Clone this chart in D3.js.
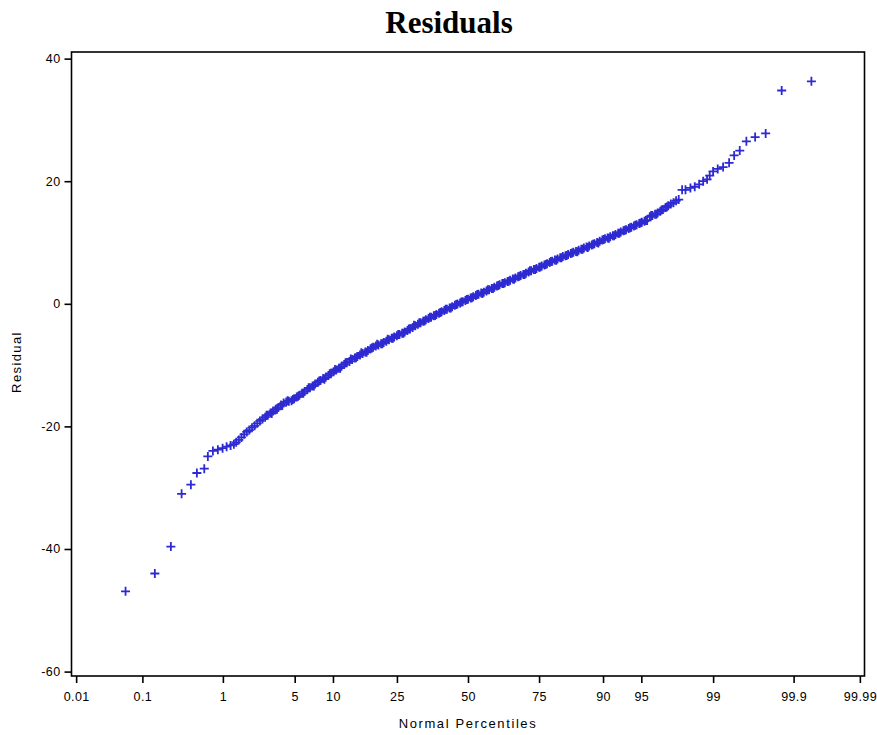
<!DOCTYPE html>
<html>
<head>
<meta charset="utf-8">
<script src="https://cdn.jsdelivr.net/npm/d3@7"></script>
<style>
  html, body { margin: 0; padding: 0; background: #fff; }
  svg { display: block; }
</style>
</head>
<body>
<svg id="chart" width="877" height="735"></svg>
<script>
// ---------- DATA ----------
const chartTitle = "Residuals";
const xAxisTitle = "Normal Percentiles";
const yAxisTitle = "Residual";

// x tick labels (percentiles) and y ticks
const percentileTicks = ["0.01", "0.1", "1", "5", "10", "25", "50", "75", "90", "95", "99", "99.9", "99.99"];
const residualTicks = [40, 20, 0, -20, -40, -60];

// lower tail: normal quantile (z) and residual
const lowTailZ = [-3.250, -2.972, -2.820, -2.718, -2.630, -2.573, -2.503, -2.469, -2.421, -2.374, -2.329, -2.291, -2.253, -2.222];
const lowTailResidual = [-46.9, -44.0, -39.6, -31.0, -29.5, -27.6, -26.9, -24.9, -24.0, -23.8, -23.55, -23.3, -23.1, -22.9];

// dense middle band
const midZ = [
  -2.200, -2.175, -2.150, -2.125, -2.100, -2.075, -2.050, -2.025, -2.000, -1.975,
  -1.950, -1.925, -1.900, -1.875, -1.850, -1.825, -1.800, -1.775, -1.750, -1.725,
  -1.700, -1.675, -1.650, -1.625, -1.600, -1.575, -1.550, -1.525, -1.500, -1.475,
  -1.450, -1.425, -1.400, -1.375, -1.350, -1.325, -1.300, -1.275, -1.250, -1.225,
  -1.200, -1.175, -1.150, -1.125, -1.100, -1.075, -1.050, -1.025, -1.000, -0.975,
  -0.950, -0.925, -0.900, -0.875, -0.850, -0.825, -0.800, -0.775, -0.750, -0.725,
  -0.700, -0.675, -0.650, -0.625, -0.600, -0.575, -0.550, -0.525, -0.500, -0.475,
  -0.450, -0.425, -0.400, -0.375, -0.350, -0.325, -0.300, -0.275, -0.250, -0.225,
  -0.200, -0.175, -0.150, -0.125, -0.100, -0.075, -0.050, -0.025, 0.000, 0.025,
  0.050, 0.075, 0.100, 0.125, 0.150, 0.175, 0.200, 0.225, 0.250, 0.275,
  0.300, 0.325, 0.350, 0.375, 0.400, 0.425, 0.450, 0.475, 0.500, 0.525,
  0.550, 0.575, 0.600, 0.625, 0.650, 0.675, 0.700, 0.725, 0.750, 0.775,
  0.800, 0.825, 0.850, 0.875, 0.900, 0.925, 0.950, 0.975, 1.000, 1.025,
  1.050, 1.075, 1.100, 1.125, 1.150, 1.175, 1.200, 1.225, 1.250, 1.275,
  1.300, 1.325, 1.350, 1.375, 1.400, 1.425, 1.450, 1.475, 1.500, 1.525,
  1.550, 1.575, 1.600, 1.625, 1.650, 1.675, 1.700, 1.725, 1.750, 1.775,
  1.800, 1.825, 1.850, 1.875, 1.900, 1.925, 1.950, 1.975, 2.000
];
const midResidual = [
  -22.6, -22.2, -21.8, -21.3, -20.9, -20.6, -20.2, -19.9, -19.5, -19.1,
  -18.8, -18.5, -18.2, -17.8, -17.5, -17.2, -16.9, -16.5, -16.2, -16.0,
  -15.9, -15.8, -15.5, -15.2, -14.9, -14.6, -14.3, -14.0, -13.7, -13.4,
  -13.1, -12.8, -12.5, -12.2, -12.0, -11.7, -11.4, -11.1, -10.8, -10.5,
  -10.2, -9.9, -9.6, -9.4, -9.1, -8.85, -8.6, -8.35, -8.1, -7.85,
  -7.6, -7.35, -7.1, -6.9, -6.7, -6.5, -6.3, -6.1, -5.85, -5.6,
  -5.4, -5.2, -5.0, -4.8, -4.6, -4.35, -4.1, -3.85, -3.6, -3.35,
  -3.1, -2.85, -2.6, -2.4, -2.2, -1.95, -1.75, -1.55, -1.3, -1.1,
  -0.9, -0.7, -0.5, -0.25, -0.05, 0.15, 0.35, 0.55, 0.75, 0.95,
  1.15, 1.35, 1.55, 1.75, 1.9, 2.1, 2.3, 2.5, 2.7, 2.9,
  3.1, 3.3, 3.45, 3.65, 3.85, 4.05, 4.2, 4.4, 4.6, 4.8,
  5.0, 5.2, 5.4, 5.6, 5.75, 5.95, 6.15, 6.35, 6.55, 6.75,
  6.95, 7.15, 7.3, 7.5, 7.7, 7.85, 8.05, 8.2, 8.4, 8.55,
  8.75, 8.9, 9.1, 9.25, 9.45, 9.6, 9.8, 10.0, 10.2, 10.4,
  10.6, 10.75, 10.95, 11.1, 11.3, 11.5, 11.7, 11.9, 12.1, 12.3,
  12.5, 12.7, 12.9, 13.1, 13.3, 13.45, 13.6, 14.2, 14.4, 14.6,
  14.8, 15.1, 15.4, 15.7, 16.0, 16.3, 16.5, 16.8, 17.0
];

// extra in-between readings where the band is densest
const midZ2 = [
  -1.9125, -1.8625, -1.8125, -1.7625, -1.7125, -1.6625, -1.6125, -1.5625, -1.5125, -1.4625,
  -1.4125, -1.3625, -1.3125, -1.2625, -1.2125, -1.1625, -1.1125, -1.0625, -1.0125, -0.9625,
  -0.9125, -0.8625, -0.8125, -0.7625, -0.7125, -0.6625, -0.6125, -0.5625, -0.5125, -0.4625,
  -0.4125, -0.3625, -0.3125, -0.2625, -0.2125, -0.1625, -0.1125, -0.0625, -0.0125, 0.0375,
  0.0875, 0.1375, 0.1875, 0.2375, 0.2875, 0.3375, 0.3875, 0.4375, 0.4875, 0.5375,
  0.5875, 0.6375, 0.6875, 0.7375, 0.7875, 0.8375, 0.8875, 0.9375, 0.9875, 1.0375,
  1.0875, 1.1375, 1.1875, 1.2375, 1.2875, 1.3375, 1.3875, 1.4375, 1.4875, 1.5375,
  1.5875, 1.6375, 1.6875, 1.7375, 1.7875, 1.8375, 1.8875
];
const midResidual2 = [
  -18.2, -17.9, -17.2, -16.6, -15.8, -15.6, -15.1, -14.6, -13.7, -13.4,
  -12.6, -12.3, -11.4, -10.7, -10.5, -9.6, -9.0, -8.8, -8.0, -7.9,
  -7.2, -6.6, -6.5, -5.8, -5.6, -5.0, -4.8, -4.1, -3.5, -3.1,
  -2.8, -2.2, -1.9, -1.4, -0.9, -0.7, -0.1, 0.3, 0.7, 1.0,
  1.5, 1.7, 2.3, 2.5, 3.0, 3.3, 3.7, 4.0, 4.5, 4.8,
  5.4, 5.6, 6.0, 6.4, 6.9, 7.1, 7.5, 7.9, 8.3, 8.5,
  8.9, 9.2, 9.7, 9.9, 10.5, 10.7, 11.1, 11.5, 12.0, 12.4,
  12.8, 13.2, 13.6, 14.4, 14.6, 15.3, 15.8
];

// upper tail
const highTailZ = [2.032, 2.064, 2.111, 2.152, 2.194, 2.232, 2.269, 2.294, 2.326, 2.370, 2.421, 2.478, 2.526, 2.579, 2.642, 2.725, 2.825, 2.977, 3.259];
const highTailResidual = [18.6, 18.6, 18.9, 19.1, 19.5, 20.0, 20.3, 20.9, 21.6, 22.0, 22.3, 23.0, 24.2, 25.0, 26.5, 27.2, 27.8, 34.8, 36.3];

// ---------- helpers ----------
// inverse standard normal CDF (Acklam)
function probit(p) {
  const a = [-3.969683028665376e+01, 2.209460984245205e+02, -2.759285104469687e+02, 1.383577518672690e+02, -3.066479806614716e+01, 2.506628277459239e+00];
  const b = [-5.447609879822406e+01, 1.615858368580409e+02, -1.556989798598866e+02, 6.680131188771972e+01, -1.328068155288572e+01];
  const c = [-7.784894002430293e-03, -3.223964580411365e-01, -2.400758277161838e+00, -2.549732539343734e+00, 4.374664141464968e+00, 2.938163982698783e+00];
  const d = [7.784695709041462e-03, 3.224671290700398e-01, 2.445134137142996e+00, 3.754408661907416e+00];
  const pl = 0.02425, ph = 1 - pl;
  let q, r;
  if (p < pl) {
    q = Math.sqrt(-2 * Math.log(p));
    return (((((c[0]*q+c[1])*q+c[2])*q+c[3])*q+c[4])*q+c[5]) / ((((d[0]*q+d[1])*q+d[2])*q+d[3])*q+1);
  } else if (p <= ph) {
    q = p - 0.5; r = q * q;
    return (((((a[0]*r+a[1])*r+a[2])*r+a[3])*r+a[4])*r+a[5])*q / (((((b[0]*r+b[1])*r+b[2])*r+b[3])*r+b[4])*r+1);
  } else {
    q = Math.sqrt(-2 * Math.log(1 - p));
    return -(((((c[0]*q+c[1])*q+c[2])*q+c[3])*q+c[4])*q+c[5]) / ((((d[0]*q+d[1])*q+d[2])*q+d[3])*q+1);
  }
}

const points = []
  .concat(lowTailZ.map((z, i) => ({ z, r: lowTailResidual[i] })))
  .concat(midZ.map((z, i) => ({ z, r: midResidual[i] })))
  .concat(midZ2.map((z, i) => ({ z, r: midResidual2[i] })))
  .concat(highTailZ.map((z, i) => ({ z, r: highTailResidual[i] })));

// ---------- layout ----------
const svg = d3.select("#chart");
const plotLeft = 71.5, plotRight = 864.5, plotTop = 52, plotBottom = 676;

const x = d3.scaleLinear().domain([-3.763, 3.763]).range([plotLeft, plotRight]);
const y = d3.scaleLinear().domain([-60.72, 41.08]).range([plotBottom, plotTop]);

const sans = "'Liberation Sans', Arial, Helvetica, sans-serif";
const markColor = "#2e2ad2";

// title
svg.append("text")
  .attr("x", 449).attr("y", 33)
  .attr("text-anchor", "middle")
  .attr("font-family", "'Liberation Serif', 'Times New Roman', serif")
  .attr("font-weight", "bold")
  .attr("font-size", 31)
  .attr("fill", "#000")
  .text(chartTitle);

// y axis
const yAxis = d3.axisLeft(y)
  .tickValues(residualTicks)
  .tickSize(7)
  .tickPadding(4)
  .tickFormat(d => String(d));
const gy = svg.append("g").attr("transform", `translate(${plotLeft},0)`).call(yAxis);

// x axis
const xTickVals = percentileTicks.map(s => probit(+s / 100));
const xAxis = d3.axisBottom(x)
  .tickValues(xTickVals)
  .tickSize(7)
  .tickPadding(9)
  .tickFormat((d, i) => percentileTicks[i]);
const gx = svg.append("g").attr("transform", `translate(0,${plotBottom})`).call(xAxis);

[gx, gy].forEach(g => {
  g.select(".domain").remove();
  g.selectAll(".tick line").attr("stroke", "#000").attr("stroke-width", 1.6);
  g.selectAll(".tick text")
    .attr("font-family", sans)
    .attr("font-size", 12.5)
    .attr("letter-spacing", 0.4)
    .attr("fill", "#000");
});

// frame
svg.append("rect")
  .attr("x", plotLeft).attr("y", plotTop)
  .attr("width", plotRight - plotLeft).attr("height", plotBottom - plotTop)
  .attr("fill", "none").attr("stroke", "#000").attr("stroke-width", 1.6);

// axis titles
svg.append("text")
  .attr("x", 468).attr("y", 728)
  .attr("text-anchor", "middle")
  .attr("font-family", sans)
  .attr("font-size", 13)
  .attr("letter-spacing", 1.6)
  .attr("fill", "#000")
  .text(xAxisTitle);

svg.append("text")
  .attr("transform", "translate(21,362) rotate(-90)")
  .attr("text-anchor", "middle")
  .attr("font-family", sans)
  .attr("font-size", 13)
  .attr("letter-spacing", 1.4)
  .attr("fill", "#000")
  .text(yAxisTitle);

// points as plus markers
svg.append("g")
  .selectAll("path")
  .data(points)
  .join("path")
  .attr("transform", d => `translate(${x(d.z)},${y(d.r)})`)
  .attr("d", "M-4.5,0H4.5M0,-4.5V4.5")
  .attr("fill", "none")
  .attr("stroke", markColor)
  .attr("stroke-width", 1.8);
</script>
</body>
</html>
